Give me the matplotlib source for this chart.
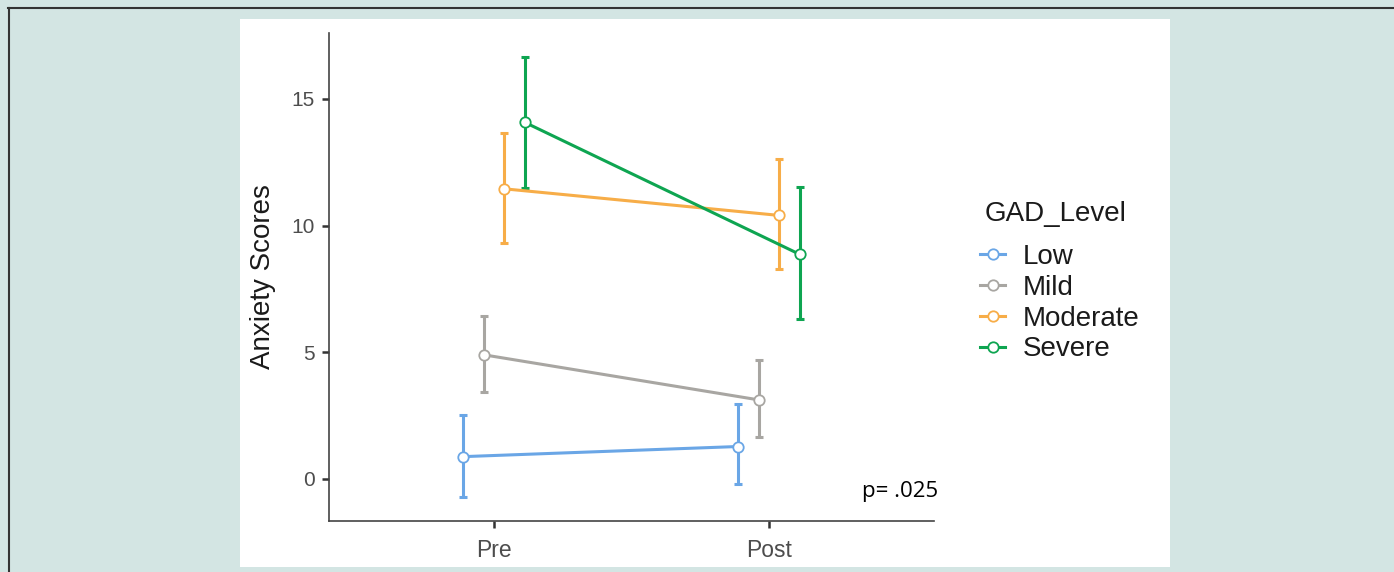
import numpy as np
import matplotlib
matplotlib.use('Agg')
import matplotlib.pyplot as plt
from matplotlib.lines import Line2D
from matplotlib.patches import Rectangle

plt.rcParams['font.family'] = ['Liberation Sans', 'DejaVu Sans']

times = ['Pre', 'Post']
levels = ['Low', 'Mild', 'Moderate', 'Severe']
colors = ['#6aa6e6', '#a8a6a2', '#f7ad48', '#0ea551']

low_mean = [0.88, 1.28]
low_lo = [-0.70, -0.21]
low_hi = [2.53, 2.95]

mild_mean = [4.90, 3.12]
mild_lo = [3.45, 1.67]
mild_hi = [6.45, 4.70]

mod_mean = [11.45, 10.40]
mod_lo = [9.33, 8.28]
mod_hi = [13.65, 12.62]

sev_mean = [14.07, 8.86]
sev_lo = [11.50, 6.30]
sev_hi = [16.67, 11.52]

means = [low_mean, mild_mean, mod_mean, sev_mean]
lows = [low_lo, mild_lo, mod_lo, sev_lo]
highs = [low_hi, mild_hi, mod_hi, sev_hi]

W, H = 1394, 572
fig = plt.figure(figsize=(W/100, H/100), dpi=100)
fig.patch.set_facecolor('#d3e5e3')

# white panel and outer border
fig.patches.append(Rectangle((240/W, 1-567/H), 930/W, 548/H, transform=fig.transFigure,
                             facecolor='white', edgecolor='none', zorder=-5))
fig.add_artist(Line2D([8/W, 1], [1-7.5/H, 1-7.5/H], color='#333333', lw=1.5))
fig.add_artist(Line2D([8.5/W, 8.5/W], [0, 1-7.5/H], color='#333333', lw=1.5))

ax = fig.add_axes([329/W, 1-521/H, 605/W, 488/H])
ax.set_facecolor('white')

x = np.arange(1, len(times)+1)
offsets = [-0.1125, -0.0375, 0.0375, 0.1125]
for i, lev in enumerate(levels):
    xs = x + offsets[i]
    m = np.array(means[i])
    lo = np.array(lows[i])
    hi = np.array(highs[i])
    ax.errorbar(xs, m, yerr=[m-lo, hi-m], fmt='none', ecolor=colors[i],
                elinewidth=2.2, capsize=3, capthick=2.2, zorder=2)
    ax.plot(xs, m, '-', color=colors[i], lw=2.2, marker='o', ms=7.5,
            mfc='white', mec=colors[i], mew=1.3, zorder=3, label=lev)

ax.set_xlim(0.4, 2.6)
ax.set_ylim(-1.66, 17.6)
ax.set_xticks(x)
ax.set_xticklabels(times)
ax.set_yticks([0, 5, 10, 15])
for s in ['top', 'right']:
    ax.spines[s].set_visible(False)
for s in ['left', 'bottom']:
    ax.spines[s].set_color('#444444')
    ax.spines[s].set_linewidth(1.2)
ax.tick_params(axis='both', colors='#333333', width=1.8, length=5,
               labelcolor='#4d4d4d')
ax.tick_params(axis='y', labelsize=15, pad=5)
ax.tick_params(axis='x', labelsize=16.5, pad=8)
ax.set_ylabel('Anxiety Scores', fontsize=20, color='#1a1a1a', labelpad=11)

ax.text(938/W, 1-492/H, 'p= .025', transform=fig.transFigure, ha='right', va='center',
        fontsize=16, color='black', family=['Open Sans', 'DejaVu Sans'])

# legend title drawn separately so the gap above the keys matches
fig.text(985/W, 1-214/H, 'GAD_Level', ha='left', va='center', fontsize=20, color='#1a1a1a')
leg = ax.legend(loc='upper left', bbox_to_anchor=(969/W, 1-233/H),
                bbox_transform=fig.transFigure, frameon=False, fontsize=20,
                handlelength=0.9, handletextpad=0.62,
                labelspacing=0.17, borderaxespad=0)
for t in leg.get_texts():
    t.set_color('#1a1a1a')

fig.savefig('out.png', dpi=100, facecolor=fig.get_facecolor())
